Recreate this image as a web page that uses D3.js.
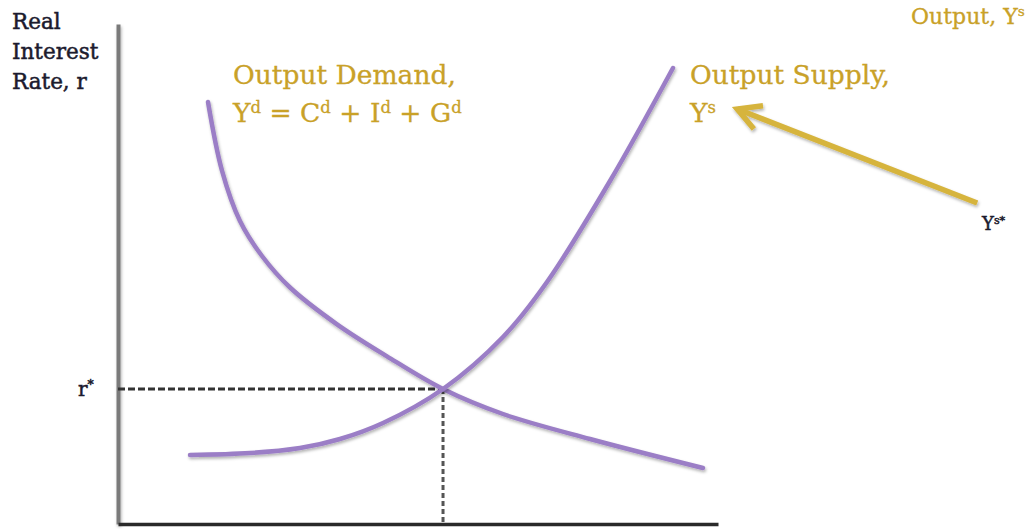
<!DOCTYPE html>
<html>
<head>
<meta charset="utf-8">
<script src="https://cdn.jsdelivr.net/npm/d3@7"></script>
<style>
  html, body { margin: 0; padding: 0; background: #fff; }
  svg { display: block; }
</style>
</head>
<body>
<svg id="chart" width="1035" height="529"></svg>
<script>
// ---- data (abstract units, 0..100 on both axes) ----
const demandX = [15, 17.33, 20.33, 24, 28.67, 36.5, 44.83, 54.17, 64.17, 78.67, 97.5];
const demandY = [84.4, 70.68, 60.6, 53.6, 47.3, 39.94, 33.54, 27, 22, 17, 11.2];
const supplyX = [12, 22, 30.33, 37, 44.17, 54.17, 64.17, 71.5, 82, 92.5];
const supplyY = [13.8, 14.2, 15.2, 17, 20.2, 27, 37.4, 48.4, 68.6, 91.2];
const equilibrium = [54.17, 27];
const arrowFrom = [143.2, 64.2];
const arrowTo = [103.2, 83];
const yLabelLines = ["Real", "Interest", "Rate, r"];

const svg = d3.select("#chart");
const x = d3.scaleLinear().domain([0, 100]).range([118, 718]);
const y = d3.scaleLinear().domain([0, 100]).range([524, 24]);

const defs = svg.append("defs");
const f = defs.append("filter").attr("id", "sh").attr("filterUnits", "userSpaceOnUse")
  .attr("x", -300).attr("y", -300).attr("width", 1700).attr("height", 1200);
f.append("feDropShadow").attr("dx", 1).attr("dy", 2).attr("stdDeviation", 1.4).attr("flood-color", "#000").attr("flood-opacity", 0.3);

const purple = "#9b7ec6";
const gold = "#d6b43e";
const goldText = "#c9a128";
const dark = "#1c1b2e";

// axes (drawn with d3 axes, no ticks)
svg.append("g").attr("transform", `translate(${x(0)},0)`)
  .call(d3.axisLeft(y).tickValues([]).tickSizeOuter(0))
  .call(g => g.select(".domain").attr("stroke", "#7a7a7a").attr("stroke-width", 4).attr("filter", "url(#sh)"));
svg.append("g").attr("transform", `translate(0,${y(0)})`)
  .call(d3.axisBottom(x).tickValues([]).tickSizeOuter(0))
  .call(g => g.select(".domain").attr("stroke", "#2a2a2a").attr("stroke-width", 3.5));

// dashed guide lines
svg.append("line")
  .attr("x1", x(0)).attr("x2", x(equilibrium[0]))
  .attr("y1", y(equilibrium[1])).attr("y2", y(equilibrium[1]))
  .attr("stroke", "#333").attr("stroke-width", 2.8).attr("stroke-dasharray", "7,3");
svg.append("line")
  .attr("x1", x(equilibrium[0])).attr("x2", x(equilibrium[0]))
  .attr("y1", y(equilibrium[1])).attr("y2", y(0))
  .attr("stroke", "#555").attr("stroke-width", 3).attr("stroke-dasharray", "5,3");

// curves
const line = d3.line().x(d => x(d[0])).y(d => y(d[1])).curve(d3.curveCatmullRom.alpha(0.5));
const demand = demandX.map((v, i) => [v, demandY[i]]);
const supply = supplyX.map((v, i) => [v, supplyY[i]]);
[demand, supply].forEach(pts => {
  svg.append("path").datum(pts).attr("d", line)
    .attr("fill", "none").attr("stroke", purple).attr("stroke-width", 4.5)
    .attr("stroke-linecap", "round").attr("filter", "url(#sh)");
});

// arrow
const ax1 = x(arrowFrom[0]), ay1 = y(arrowFrom[1]), ax2 = x(arrowTo[0]), ay2 = y(arrowTo[1]);
const ang = Math.atan2(ay1 - ay2, ax1 - ax2);
const head = 26, spread = 0.5;
const ag = svg.append("g").attr("filter", "url(#sh)");
ag.append("line").attr("x1", ax1).attr("y1", ay1).attr("x2", ax2).attr("y2", ay2)
  .attr("stroke", gold).attr("stroke-width", 5.5).attr("stroke-linecap", "butt");
ag.append("path")
  .attr("d", `M${ax2 + head * Math.cos(ang - spread)},${ay2 + head * Math.sin(ang - spread)} L${ax2},${ay2} L${ax2 + head * Math.cos(ang + spread)},${ay2 + head * Math.sin(ang + spread)}`)
  .attr("fill", "none").attr("stroke", gold).attr("stroke-width", 5.5).attr("stroke-linejoin", "miter").attr("stroke-linecap", "butt");

// text helpers
const serif = "'DejaVu Serif', 'Liberation Serif', serif";
function richText(xp, yp, parts, size, color, weight) {
  const t = svg.append("text").attr("x", xp).attr("y", yp)
    .attr("font-family", serif).attr("font-size", size).attr("fill", color)
    .attr("stroke", color).attr("stroke-width", weight || 0.3);
  parts.forEach(p => {
    if (typeof p === "string") t.append("tspan").text(p);
    else t.append("tspan").attr("baseline-shift", "super").attr("font-size", size * 0.62).text(p.sup);
  });
  return t;
}

// y-axis label
yLabelLines.forEach((s, i) => {
  richText(12, 29 + i * 30, [s], 21.5, dark, 0.5);
});

richText(233, 84, ["Output Demand,"], 26.5, goldText);
richText(233, 122, ["Y", {sup: "d"}, " = C", {sup: "d"}, " + I", {sup: "d"}, " + G", {sup: "d"}], 26.5, goldText);
richText(690, 84, ["Output Supply,"], 26.5, goldText);
richText(690, 122, ["Y", {sup: "s"}], 26.5, goldText);
richText(911, 24, ["Output, Y", {sup: "s"}], 22, goldText);
richText(982, 230, ["Y", {sup: "s*"}], 18, dark, 0.5);
richText(78, 396, ["r", {sup: "*"}], 20, dark, 0.5);
</script>
</body>
</html>
